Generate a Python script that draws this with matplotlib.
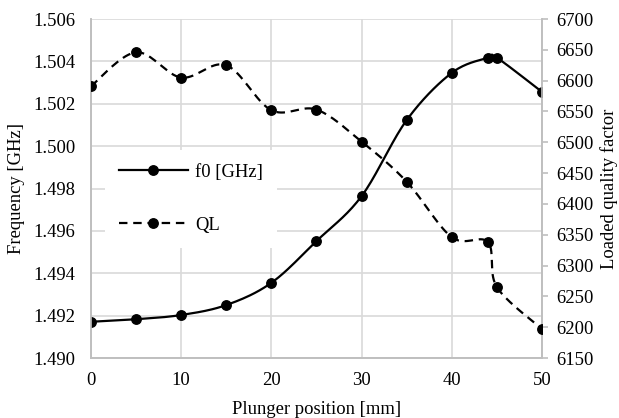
import numpy as np
import matplotlib
matplotlib.use("Agg")
from matplotlib import pyplot as plt

# Data
pos = [0, 5, 10, 15, 20, 25, 30, 35, 40, 44, 45, 50]
f0 = [1.49171, 1.49183, 1.49203, 1.4925, 1.49355, 1.49552, 1.49764,
      1.50123, 1.50346, 1.50417, 1.50417, 1.50256]
ql = [6591, 6646, 6605, 6625, 6552, 6553, 6501, 6436, 6346, 6338, 6265, 6197]


def smooth(x, y, n=20):
    # Excel style smoothed line (Catmull-Rom bezier between the points)
    x = np.asarray(x, float)
    y = np.asarray(y, float)
    px = np.concatenate([[x[0]], x, [x[-1]]])
    py = np.concatenate([[y[0]], y, [y[-1]]])
    xs, ys = [], []
    t = np.linspace(0, 1, n)
    for i in range(1, len(px) - 2):
        p0, p1, p2, p3 = [np.array([px[j], py[j]]) for j in (i - 1, i, i + 1, i + 2)]
        c1 = p1 + (p2 - p0) / 6
        c2 = p2 - (p3 - p1) / 6
        pts = ((1 - t) ** 3)[:, None] * p1 + (3 * (1 - t) ** 2 * t)[:, None] * c1 \
            + (3 * (1 - t) * t ** 2)[:, None] * c2 + (t ** 3)[:, None] * p2
        xs.extend(pts[:, 0])
        ys.extend(pts[:, 1])
    return xs, ys


plt.rcParams["font.family"] = ["Liberation Serif", "DejaVu Serif"]
plt.rcParams["font.size"] = 13.4

fig = plt.figure(figsize=(6.19, 4.18), dpi=100)
ax = fig.add_axes([0.147, 0.1435, 0.7286, 0.811])
ax2 = ax.twinx()

grid_c = "#d9d9d9"
spine_c = "#bfbfbf"

sx, sy = smooth(pos, f0)
ax.plot(sx, sy, color="black", lw=1.6, zorder=3)
ax.plot(pos, f0, "o", color="black", ms=6.8, zorder=4)

qx, qy = smooth(pos, ql)
ax2.plot(qx, qy, color="black", lw=1.6, dashes=(3.8, 2.6), zorder=3)
ax2.plot(pos, ql, "o", color="black", ms=6.8, zorder=4)

ax.set_xlim(0, 50)
ax.set_ylim(1.490, 1.506)
ax.set_xticks(range(0, 51, 10))
ax.set_yticks(np.arange(1.490, 1.5065, 0.002))
ax.set_yticklabels(["%.3f" % v for v in np.arange(1.490, 1.5065, 0.002)])
ax2.set_ylim(6150, 6700)
ax2.set_yticks(range(6150, 6701, 50))

ax.grid(True, color=grid_c, lw=1.2)
ax.set_axisbelow(True)
ax.tick_params(axis="x", length=0, pad=10)
ax.tick_params(axis="y", length=0, pad=11)
ax2.tick_params(axis="y", length=4, color=spine_c, width=1.2, pad=6)

for a in (ax, ax2):
    a.spines["top"].set_visible(False)
    for s in ("left", "right", "bottom"):
        a.spines[s].set_color(spine_c)
        a.spines[s].set_linewidth(1.2)

ax.set_xlabel("Plunger position [mm]", labelpad=9)
ax.set_ylabel("Frequency [GHz]", labelpad=6)
ax2.set_ylabel("Loaded quality factor", labelpad=5)

# legend with proxy handles
h1, = ax.plot([], [], "-o", color="black", lw=1.6, ms=6.8)
h2, = ax.plot([], [], "-o", color="black", lw=1.6, ms=6.8, dashes=(3.8, 2.6))
leg = ax2.legend([h1, h2], ["f0 [GHz]", "QL"], loc="center left",
                 bbox_to_anchor=(0.031, 0.47), borderaxespad=0, borderpad=0.75,
                 handlelength=3.7, handletextpad=0.4, labelspacing=1.95,
                 frameon=True, fancybox=False, edgecolor="none", framealpha=1)
leg.set_zorder(2)
ax.set_zorder(ax2.get_zorder() - 1)
ax2.patch.set_visible(False)

fig.savefig("out.png", dpi=100)
